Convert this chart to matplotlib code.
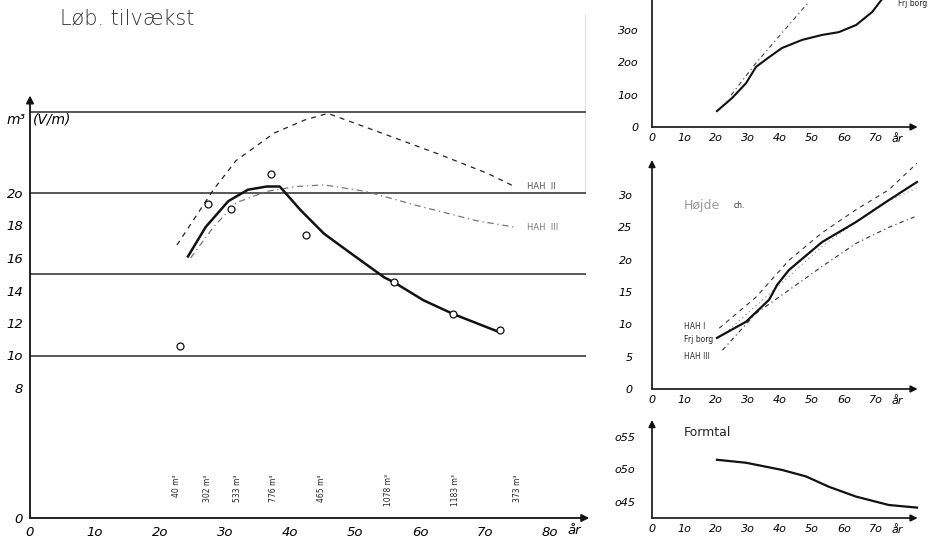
import matplotlib.pyplot as plt

# --- main panel: Løb. tilvækst (m3 per year) ---
MAIN_XTICKS = [0, 10, 20, 30, 40, 50, 60, 70, 80]
MAIN_XLABELS = ['0', '1o', '2o', '3o', '4o', '5o', '6o', '7o', '8o']
MAIN_YTICKS = [0, 8, 10, 12, 14, 16, 18, 20]
MAIN_YLABELS = ['0', '8', '1o', '12', '14', '16', '18', '2o']
GRID_LEVELS = [10, 15, 20, 25]

frij_age = [24.3, 27.0, 30.5, 33.5, 36.4, 38.4, 41.6, 45.2, 49.3, 54.5, 56.0, 60.5, 65.1, 72.1]
frij_val = [16.1, 17.9, 19.5, 20.2, 20.4, 20.4, 18.95, 17.5, 16.3, 14.8, 14.5, 13.4, 12.55, 11.45]

obs_age = [23.1, 27.3, 30.9, 37.1, 42.4, 56.0, 65.1, 72.2]
obs_val = [10.6, 19.3, 19.0, 21.2, 17.4, 14.5, 12.55, 11.55]

hah2_age = [22.6, 25.9, 28.2, 31.7, 37.6, 42.3, 45.8, 54.0, 62.8, 70.4, 74.5]
hah2_val = [16.8, 18.8, 20.2, 22.0, 23.7, 24.5, 24.9, 23.7, 22.4, 21.2, 20.4]

hah3_age = [24.7, 28.2, 31.7, 36.4, 41.0, 45.2, 51.6, 59.8, 68.6, 74.5]
hah3_val = [16.0, 17.9, 19.4, 20.1, 20.4, 20.5, 20.1, 19.2, 18.3, 17.9]

vol_age = [22.5, 27.3, 31.9, 37.5, 44.9, 55.1, 65.5, 75.0]
vol_text = ['40 m³', '302 m³', '533 m³', '776 m³', '465 m³', '1078 m³', '1183 m³', '373 m³']

# --- right top: volume ---
SIDE_XTICKS = [0, 10, 20, 30, 40, 50, 60, 70]
SIDE_XLABELS = ['0', '1o', '2o', '3o', '4o', '5o', '6o', '7o']
VOL_YTICKS = [0, 100, 200, 300]
VOL_YLABELS = ['0', '1oo', '2oo', '3oo']
vol_frij_age = [20.3, 25.0, 29.4, 32.5, 36.6, 40.6, 46.9, 53.0, 58.4, 63.8, 68.8, 71.6]
vol_frij_val = [49, 89, 135, 185, 215, 243, 268, 283, 292, 314, 354, 390]
vol_hah_age = [24.7, 32.5, 49.0]
vol_hah_val = [98, 197, 385]

# --- right middle: Højde ---
H_YTICKS = [0, 5, 10, 15, 20, 25, 30]
H_YLABELS = ['0', '5', '1o', '15', '2o', '25', '3o']
h_frij_age = [20.3, 29.4, 36.6, 39.1, 42.8, 53.1, 63.7, 74.0, 82.8]
h_frij_val = [7.9, 10.4, 13.8, 16.1, 18.4, 22.7, 25.8, 29.2, 32.0]
h_hah1_age = [21.0, 32.5, 42.8, 53.0, 63.7, 74.0, 82.8]
h_hah1_val = [9.4, 14.2, 19.9, 24.1, 27.7, 30.8, 34.9]
h_hah2_age = [23.0, 38.7, 53.0, 71.0, 82.8]
h_hah2_val = [8.7, 15.6, 22.0, 28.4, 31.1]
h_hah3_age = [22.0, 32.5, 42.8, 53.0, 63.7, 74.0, 82.0]
h_hah3_val = [6.0, 11.7, 15.3, 18.9, 22.5, 25.0, 26.6]

# --- right bottom: Formtal ---
F_YTICKS = [0.45, 0.50, 0.55]
F_YLABELS = ['o45', 'o5o', 'o55']
f_age = [20.3, 29.4, 40.6, 48.1, 55.3, 63.7, 74.0, 82.8]
f_val = [0.5146, 0.510, 0.499, 0.489, 0.473, 0.458, 0.445, 0.441]

W, H = 930, 543
fig = plt.figure(figsize=(9.3, 5.43), dpi=100)
font = {'family': 'DejaVu Sans', 'style': 'italic'}


def px_axes(left, top, right, bottom):
    ax = fig.add_axes([left / W, 1 - bottom / H, (right - left) / W, (bottom - top) / H])
    ax.patch.set_alpha(0)
    for s in ax.spines.values():
        s.set_visible(False)
    ax.tick_params(length=0)
    return ax


def arrow(ax, x0, y0, x1, y1, lw=1.3, ms=11):
    ax.annotate('', xy=(x1, y1), xytext=(x0, y0), annotation_clip=False,
                arrowprops=dict(arrowstyle='-|>', color='#111', lw=lw, mutation_scale=ms,
                                shrinkA=0, shrinkB=0))


# main
ax = px_axes(30, 14.25, 586, 518)
ax.set_xlim(0, 85.5)
ax.set_ylim(0, 31)
ax.set_xticks(MAIN_XTICKS, MAIN_XLABELS, fontdict=dict(font, size=9.5))
ax.set_yticks(MAIN_YTICKS, MAIN_YLABELS, fontdict=dict(font, size=9.5))
ax.tick_params(axis='x', pad=6)
ax.tick_params(axis='y', pad=5)
ax.hlines(GRID_LEVELS, 0, 85.5, color='#2a2a2a', lw=1.1)
ax.vlines(85.5, 20, 31, color='#555', lw=1.0)
arrow(ax, 0, 0, 86, 0)
arrow(ax, 0, 0, 0, 26)
ax.plot(hah2_age, hah2_val, color='#222', lw=0.9, dashes=(4, 4))
ax.plot(hah3_age, hah3_val, color='#777', lw=0.9, dashes=(5, 3, 1, 3))
ax.plot(frij_age, frij_val, color='#111', lw=1.8)
ax.plot(obs_age, obs_val, 'o', mfc='white', mec='#111', ms=5, mew=0.9)
ax.text(76.5, 20.4, 'HAH  II', fontsize=6, color='#555', va='center')
ax.text(76.5, 17.9, 'HAH  III', fontsize=6, color='#777', va='center')
ax.text(83.7, -0.8, 'år', fontdict=dict(font, size=9.5), ha='center', va='center')
for a, t in zip(vol_age, vol_text):
    ax.text(a, 2.7, t, rotation=90, fontsize=5.5, ha='center', va='top', color='#222')
ax.text(-0.6, 24.5, 'm³', fontdict=dict(font, size=10), ha='right', va='center')
ax.text(0.5, 24.5, '(V/m)', fontdict=dict(font, size=10), ha='left', va='center')
fig.text(60 / W, 1 - 18 / H, 'Løb. tilvækst', fontsize=15, color='#333',
         fontweight='light', ha='left', va='center')


def side_panel(top, bottom, ylim, yticks, ylabels, pad_y):
    a = px_axes(652, top, 925, bottom)
    a.set_xlim(0, 85.3)
    a.set_ylim(*ylim)
    a.set_xticks(SIDE_XTICKS, SIDE_XLABELS, fontdict=dict(font, size=8))
    a.set_yticks(yticks, ylabels, fontdict=dict(font, size=8))
    a.tick_params(axis='x', pad=4)
    a.tick_params(axis='y', pad=pad_y)
    arrow(a, 0, ylim[0], 83, ylim[0], lw=1.2, ms=10)
    # 'år' sits on the tick label line below the axis
    a.annotate('år', xy=(76.5, ylim[0]), xytext=(0, -12), textcoords='offset pixels',
               fontsize=8, style='italic', ha='center', va='center', annotation_clip=False)
    return a


top = side_panel(0, 127, (0, 390.8), VOL_YTICKS, VOL_YLABELS, 10)
top.plot([0, 0], [0, 390.8], color='#111', lw=1.2, clip_on=False)
top.plot(vol_hah_age, vol_hah_val, color='#444', lw=0.8, dashes=(4, 3, 1, 3))
top.plot(vol_frij_age, vol_frij_val, color='#111', lw=1.5, clip_on=False)
top.text(77, 381, 'Frj borg', fontsize=5.5, color='#222', va='center')

mid = side_panel(160, 389, (0, 35.4), H_YTICKS, H_YLABELS, 14)
arrow(mid, 0, 0, 0, 35.4, lw=1.2, ms=10)
mid.plot(h_hah1_age, h_hah1_val, color='#333', lw=0.8, dashes=(4, 4))
mid.plot(h_hah2_age, h_hah2_val, color='#888', lw=0.8, dashes=(1, 3))
mid.plot(h_hah3_age, h_hah3_val, color='#333', lw=0.8, dashes=(4, 3, 1, 3))
mid.plot(h_frij_age, h_frij_val, color='#111', lw=1.6)
mid.text(10, 9.7, 'HAH I', fontsize=5.5, color='#333', va='center')
mid.text(10, 7.6, 'Frj borg', fontsize=5.5, color='#222', va='center')
mid.text(10, 5.1, 'HAH III', fontsize=5.5, color='#333', va='center')
mid.text(10, 28.4, 'Højde', fontsize=9, color='#999', va='center')
mid.text(25.5, 28.3, 'ch.', fontsize=5.5, color='#333', va='center')

bot = side_panel(420, 518, (0.425, 0.5758), F_YTICKS, F_YLABELS, 12)
arrow(bot, 0, 0.425, 0, 0.5758, lw=1.2, ms=10)
bot.plot(f_age, f_val, color='#111', lw=1.6)
bot.text(10, 0.556, 'Formtal', fontsize=9, color='#222', va='center')

fig.savefig('out.png', dpi=100)
